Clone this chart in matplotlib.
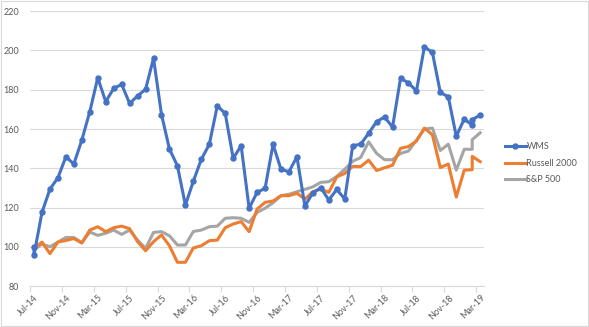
import numpy as np
import pandas as pd
import matplotlib
matplotlib.use("Agg")
import matplotlib.pyplot as plt

# Monthly axis, Jul-14 .. Mar-19
months = pd.period_range("2014-07", "2019-03", freq="M")

# Two observations land in Jul-14 (IPO base + month end) and two in Feb-19
obs_months = months.insert(0, months[0])
obs_months = obs_months.insert(len(obs_months) - 1, months[-2])

wms = [100, 96, 117.6, 129.5, 135.2, 145.9, 142.2, 154.4, 168.8, 186.1,
       173.9, 180.7, 182.7, 173.0, 176.9, 180.2, 196.0, 167.4, 149.8, 141.3,
       121.3, 133.5, 144.6, 152.2, 171.7, 168.0, 145.1, 151.5, 119.7, 127.8,
       129.8, 152.2, 139.5, 138.3, 145.9, 120.8, 127.6, 130.1, 123.9, 129.3,
       124.4, 151.5, 152.3, 157.8, 163.8, 166.1, 161.0, 185.8, 183.5, 179.4,
       201.8, 199.0, 178.6, 176.4, 156.3, 165.1, 162.0, 164.8, 167.1]

russell = [100, 99.3, 102.5, 96.6, 102.5, 103.3, 104.3, 102.0, 108.6, 110.3,
           107.8, 109.8, 110.6, 109.3, 102.7, 98.1, 102.7, 106.1, 100.6, 92.2,
           92.2, 99.5, 100.6, 103.2, 103.5, 109.8, 111.7, 112.9, 107.8, 119.3,
           122.7, 123.4, 126.1, 126.1, 127.3, 124.4, 128.1, 129.5, 127.8, 135.7,
           137.4, 141.0, 140.9, 144.2, 138.9, 140.3, 141.6, 150.2, 151.1, 153.9,
           160.5, 157.1, 140.4, 142.2, 125.4, 139.1, 139.3, 146.1, 143.4]

sp500 = [100, 98.5, 101.5, 100.1, 102.5, 104.8, 104.8, 102.2, 107.6, 105.9,
         107.0, 108.6, 106.4, 108.6, 103.5, 99.3, 107.4, 107.8, 105.7, 101.0,
         101.0, 107.9, 108.6, 110.3, 110.6, 114.6, 114.9, 114.6, 112.5, 117.6,
         119.7, 122.5, 126.1, 126.8, 128.1, 129.3, 130.6, 132.9, 133.2, 135.9,
         139.5, 143.6, 145.5, 153.5, 147.6, 144.4, 144.4, 147.6, 148.8, 154.3,
         160.0, 160.5, 149.1, 152.3, 139.1, 149.7, 149.7, 154.6, 158.1]

tick_every = 4

plt.rcParams["font.family"] = ["Lato", "DejaVu Sans"]

x = np.array([p.ordinal for p in obs_months]) - months[0].ordinal

fig = plt.figure(figsize=(5.89, 3.27), dpi=100)
ax = fig.add_axes([0.051, 0.1245, 0.771, 0.8415])

ax.plot(x, sp500, color="#A5A5A5", lw=2.2, label="S&P 500", zorder=2)
ax.plot(x, russell, color="#ED7D31", lw=2.2, label="Russell 2000", zorder=3)
ax.plot(x, wms, color="#4472C4", lw=2.2, marker="o", ms=3.6,
        label="WMS", zorder=4)

ax.set_xlim(-0.5, len(months) - 0.5)
ax.set_ylim(80, 220)
ax.set_yticks(np.arange(80, 221, 20))

tick_pos = np.arange(0, len(months), tick_every)
ax.set_xticks(tick_pos)
ax.set_xticklabels([months[i].strftime("%b-%y") for i in tick_pos],
                   rotation=45, ha="right", rotation_mode="anchor")
ax.set_xticks(tick_pos - 0.5, minor=True)

ax.grid(axis="y", color="#D9D9D9", lw=0.8)
ax.set_axisbelow(True)
for side in ["top", "right", "left"]:
    ax.spines[side].set_visible(False)
ax.spines["bottom"].set_color("#D9D9D9")
ax.spines["bottom"].set_linewidth(0.8)

ax.tick_params(axis="y", length=0, pad=8, labelsize=6.5, labelcolor="#595959")
ax.tick_params(axis="x", which="major", length=0, pad=5,
               labelsize=6.5, labelcolor="#595959")
ax.tick_params(axis="x", which="minor", length=4, color="#D9D9D9", width=0.8)

handles, labels = ax.get_legend_handles_labels()
order = [2, 1, 0]
fig.legend([handles[i] for i in order], [labels[i] for i in order],
           loc="center left", bbox_to_anchor=(0.857, 0.501), frameon=False,
           borderpad=0, borderaxespad=0,
           fontsize=6.5, labelcolor="#595959", handlelength=2.3,
           handletextpad=0.1, labelspacing=0.85)

# chart border
fig.patches.append(plt.Rectangle((0.002, 0.003), 0.996, 0.994,
                                 transform=fig.transFigure, fill=False,
                                 edgecolor="#D9D9D9", lw=0.8))

fig.savefig("out.png", dpi=100)
